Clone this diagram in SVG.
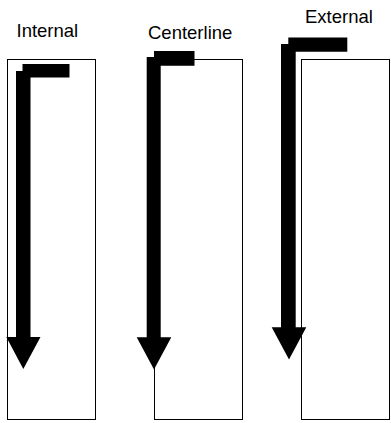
<svg xmlns="http://www.w3.org/2000/svg" width="391" height="423" viewBox="0 0 391 423">
<style>
.box{fill:#fff;stroke:#000;stroke-width:1}
.arr{fill:#000;stroke:none}
.lbl{font-family:"Liberation Sans",Arial,sans-serif;font-size:18.5px;fill:#000}
</style>
<rect width="391" height="423" fill="#fff"/>
<g id="internal">
<rect class="box" x="7.5" y="59.5" width="88" height="360"/>
<text class="lbl" x="16.5" y="36.5">Internal</text>
</g>
<g id="centerline">
<rect class="box" x="154.5" y="59.5" width="88" height="360"/>
<text class="lbl" x="148" y="39">Centerline</text>
</g>
<g id="external">
<rect class="box" x="301.5" y="59.5" width="88" height="360"/>
<text class="lbl" x="305" y="23">External</text>
</g>
<g id="connectors">
<polygon class="arr" points="16,71 22.5,71 22.5,64 69.5,64 69.5,77.5 30.5,77.5 30.5,337 40.5,337 23.3,369 6.3,337 16,337"/>
<polygon class="arr" points="146.7,57 154,57 154,51 194.5,51 194.5,65.7 160.7,65.7 160.7,337.3 171.3,337.3 154,369.5 136.7,337.3 146.7,337.3"/>
<polygon class="arr" points="281,44 288.3,44 288.3,37.5 347.3,37.5 347.3,51.7 295.7,51.7 295.7,327.3 306.3,327.3 289,359.5 271.7,327.3 281,327.3"/>
</g>
</svg>
